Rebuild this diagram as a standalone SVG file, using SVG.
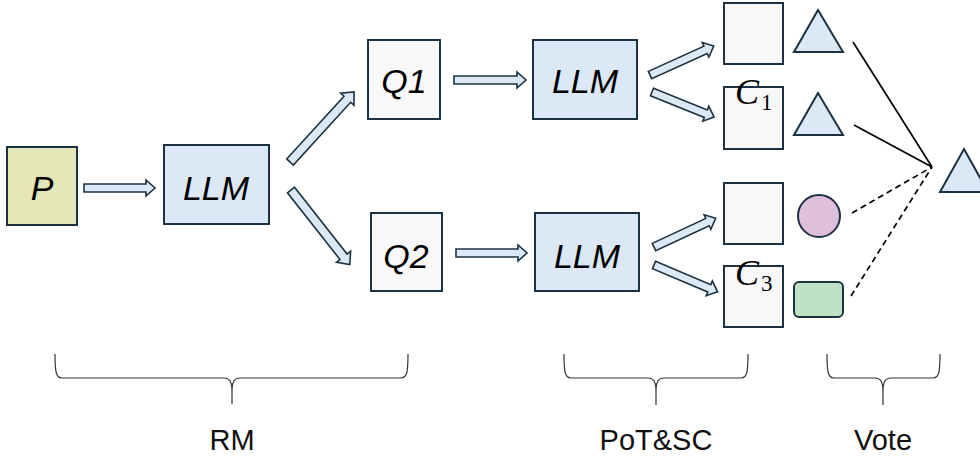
<svg xmlns="http://www.w3.org/2000/svg" width="980" height="459" viewBox="0 0 980 459">
<style>
.box{stroke:#1c3242;stroke-width:2}
.p{fill:#e3e6b6}
.llm{fill:#dce8f5}
.q{fill:#f8f8f8}
.arr{fill:#dce8f5;stroke:#1c3242;stroke-width:1.6;stroke-linejoin:miter}
.lbl{font-family:"Liberation Sans",Arial,sans-serif;font-style:italic;font-size:34px;fill:#000;text-anchor:middle}
.cap{font-family:"Liberation Sans",Arial,sans-serif;font-size:29px;fill:#111;text-anchor:middle}
.math{font-family:"Liberation Serif","DejaVu Serif",serif;fill:#000}
.brace{fill:none;stroke:#333;stroke-width:1.2}
.vote{stroke:#000;stroke-width:1.7;fill:none}
.dash{stroke-dasharray:6,4}
.shape{stroke:#1c3242;stroke-width:2}
</style>

<g id="connectors">
  <path class="arr" transform="translate(84,188)" d="M0,-4H62V-8L71,0L62,8V4H0Z"/>
  <path class="arr" transform="translate(290,162) rotate(-47.6)" d="M0,-4.5H85V-9L95,0L85,9V4.5H0Z"/>
  <path class="arr" transform="translate(291,190) rotate(51.8)" d="M0,-4.5H85V-9L95,0L85,9V4.5H0Z"/>
  <path class="arr" transform="translate(454,80)" d="M0,-4H63V-8L72,0L63,8V4H0Z"/>
  <path class="arr" transform="translate(456,253)" d="M0,-4H62V-8L71,0L62,8V4H0Z"/>
  <path class="arr" transform="translate(650,75) rotate(-24.4)" d="M0,-4H61V-8L70,0L61,8V4H0Z"/>
  <path class="arr" transform="translate(652,92) rotate(22)" d="M0,-4H58V-8L67,0L58,8V4H0Z"/>
  <path class="arr" transform="translate(654,247) rotate(-25)" d="M0,-4H59V-8L68,0L59,8V4H0Z"/>
  <path class="arr" transform="translate(654,265) rotate(22.9)" d="M0,-4H60V-8L69,0L60,8V4H0Z"/>
  <line class="vote" x1="853" y1="42" x2="932" y2="167"/>
  <line class="vote" x1="854" y1="125" x2="932" y2="167"/>
  <line class="vote dash" x1="852" y1="213" x2="932" y2="167"/>
  <line class="vote dash" x1="851" y1="296" x2="932" y2="167"/>
</g>

<g id="P">
  <rect class="box p" x="7" y="147" width="70" height="78"/>
  <text class="lbl" x="42" y="200">P</text>
</g>
<g id="LLM1">
  <rect class="box llm" x="164" y="145" width="105" height="79"/>
  <text class="lbl" x="216" y="200">LLM</text>
</g>
<g id="Q1">
  <rect class="box q" x="368" y="40" width="72" height="79"/>
  <text class="lbl" x="404" y="93">Q1</text>
</g>
<g id="Q2">
  <rect class="box q" x="371" y="213" width="71" height="78"/>
  <text class="lbl" x="406" y="268">Q2</text>
</g>
<g id="LLM2">
  <rect class="box llm" x="533" y="40" width="104" height="79"/>
  <text class="lbl" x="585" y="93">LLM</text>
</g>
<g id="LLM3">
  <rect class="box llm" x="535" y="213" width="104" height="78"/>
  <text class="lbl" x="587" y="268">LLM</text>
</g>

<g id="S1"><rect class="box q" x="724" y="3" width="59" height="61"/></g>
<g id="S2"><rect class="box q" x="724" y="87" width="59" height="62"/></g>
<g id="S3"><rect class="box q" x="724" y="183" width="59" height="61"/></g>
<g id="S4"><rect class="box q" x="724" y="266" width="59" height="61"/></g>

<g id="C1">
  <text class="math" x="735" y="104" font-size="36" font-style="italic">C</text>
  <text class="math" x="761" y="110" font-size="23">1</text>
</g>
<g id="C3">
  <text class="math" x="735" y="285" font-size="36" font-style="italic">C</text>
  <text class="math" x="761" y="291" font-size="23">3</text>
</g>

<g id="T1"><polygon class="shape llm" points="818,10 843,52 794,52"/></g>
<g id="T2"><polygon class="shape llm" points="818,93 843,135 794,135"/></g>
<g id="Circle"><circle class="shape" fill="#e0bfdd" cx="819" cy="216" r="21"/></g>
<g id="Rect"><rect class="shape" fill="#bde2c4" x="794" y="282" width="49" height="35" rx="5"/></g>
<g id="Result"><polygon class="shape llm" points="964,149 988,192 940,192"/></g>

<g id="braces">
  <path class="brace" d="M55,354 C55,372 56,378 62,378 L224,378 C230,378 232,382 232,392 L232,404 M232,392 C232,382 234,378 240,378 L401,378 C407,378 408,372 408,354"/>
  <path class="brace" d="M564,354 C564,372 565,378 571,378 L648,378 C654,378 656,382 656,392 L656,405 M656,392 C656,382 658,378 664,378 L741,378 C747,378 748,372 748,354"/>
  <path class="brace" d="M827,354 C827,372 828,378 834,378 L875,378 C881,378 883,382 883,392 L883,405 M883,392 C883,382 885,378 891,378 L933,378 C939,378 940,372 940,354"/>
  <text class="cap" x="232" y="450">RM</text>
  <text class="cap" x="656" y="450">PoT&amp;SC</text>
  <text class="cap" x="883" y="450">Vote</text>
</g>
</svg>
